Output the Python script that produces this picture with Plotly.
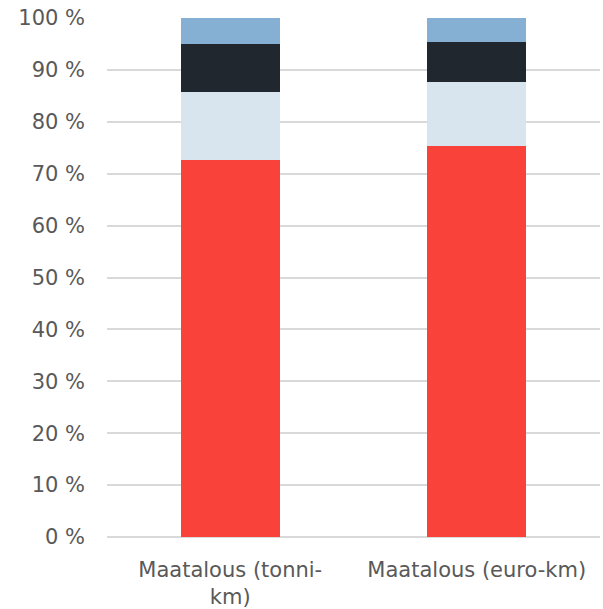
import plotly.graph_objects as go

categories = ["Maatalous (tonni-<br>km)", "Maatalous (euro-km)"]
series_names = ["Osuus 1", "Osuus 2", "Osuus 3", "Osuus 4"]
series_values = [
    [72.7, 75.4],   # red base
    [13.1, 12.3],   # light blue
    [9.2, 7.7],     # dark
    [5.0, 4.6],     # blue top
]
series_colors = ["#F9423A", "#D8E5EE", "#20272E", "#86B0D3"]
y_ticks = [0, 10, 20, 30, 40, 50, 60, 70, 80, 90, 100]
y_tick_labels = [f"{v} %" for v in y_ticks]

fig = go.Figure()
for name, vals, col in zip(series_names, series_values, series_colors):
    fig.add_trace(go.Bar(x=categories, y=vals, name=name,
                         marker=dict(color=col, line=dict(width=0))))

font = dict(family="DejaVu Sans", size=21, color="#595959")
fig.update_layout(
    barmode="stack",
    bargap=0.6,
    showlegend=False,
    width=603, height=609,
    margin=dict(l=107, r=3, t=18, b=72),
    paper_bgcolor="white", plot_bgcolor="white",
    font=font,
    xaxis=dict(showgrid=False, showline=False, ticks="", tickfont=font,
               ticklabelstandoff=18, automargin=False),
    yaxis=dict(range=[0, 100], tickvals=y_ticks, ticktext=y_tick_labels,
               showgrid=True, gridcolor="#D9D9D9", gridwidth=1.5,
               zeroline=True, zerolinecolor="#D9D9D9", zerolinewidth=1.5,
               showline=False, ticks="", ticklabelstandoff=21, tickfont=font,
               automargin=False),
)
fig.write_html("out.html")
